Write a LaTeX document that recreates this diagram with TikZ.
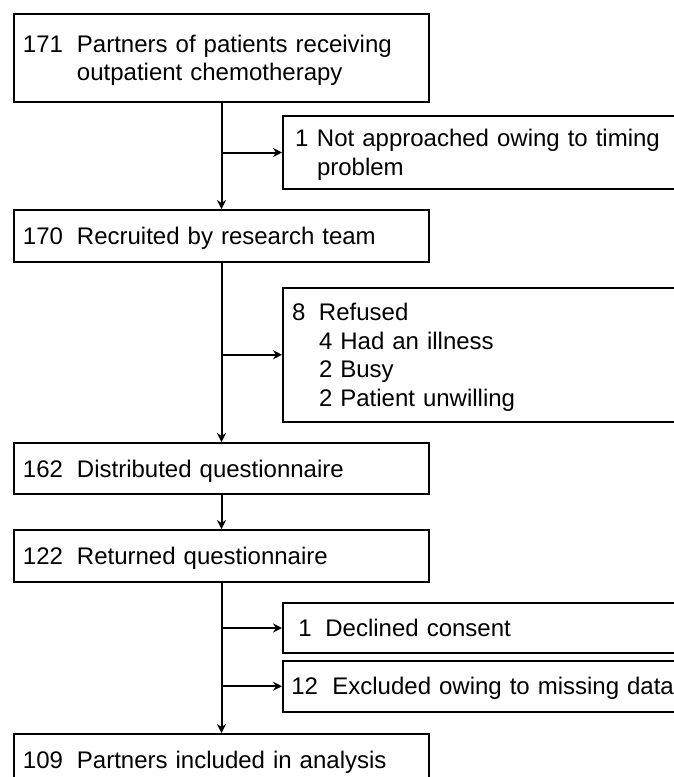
\documentclass[tikz,border=0pt]{standalone}
\usepackage{fontspec}
\setmainfont{Liberation Sans}
\usetikzlibrary{arrows.meta}

\tikzset{
  mainbox/.style={minimum width=415pt,inner xsep=#1,text width=415pt-2*#1},
  sidebox/.style={minimum width=440pt,inner xsep=#1,text width=440pt-2*#1}
}

\begin{document}
\begin{tikzpicture}[x=1pt,y=-1pt]
        \useasboundingbox (0,0) rectangle (674,777);
        \clip (0,0) rectangle (674,777);
        \begin{scope}[every node/.style={draw,line width=2pt,anchor=north west,align=left,
            font=\fontsize{24pt}{28.5pt}\selectfont,inner ysep=0pt,text height=17.2pt,text depth=0pt}]
          \node[mainbox=9pt,minimum height=88pt,text depth=28.5pt] (n171) at (13,13)
            {\makebox[54pt][l]{171}Partners of patients receiving\\\hspace*{54pt}outpatient chemotherapy};
          \node[sidebox=12pt,minimum height=73pt,text depth=28.5pt] (nskip) at (282,115)
            {\makebox[22pt][l]{1}Not approached owing to timing\\\hspace*{22pt}problem};
          \node[mainbox=9pt,minimum height=52pt] (n170) at (13,209)
            {\makebox[54pt][l]{170}Recruited by research team};
          \node[sidebox=9pt,minimum height=133.5pt,text depth=85.5pt] (nref) at (282,287)
            {\makebox[27pt][l]{8}Refused\\\hspace*{27pt}4 Had an illness\\\hspace*{27pt}2 Busy\\\hspace*{27pt}2 Patient unwilling};
          \node[mainbox=9pt,minimum height=51pt] (n162) at (13,442)
            {\makebox[54pt][l]{162}Distributed questionnaire};
          \node[mainbox=9pt,minimum height=52pt] (n122) at (13,529)
            {\makebox[54pt][l]{122}Returned questionnaire};
          \node[sidebox=15.4pt,minimum height=50pt] (ndecl) at (282,602)
            {\makebox[27pt][l]{1}Declined consent};
          \node[sidebox=8.4pt,minimum height=50.5pt] (nexcl) at (282,660)
            {\makebox[41pt][l]{12}Excluded owing to missing data};
          \node[mainbox=9pt,minimum height=52pt] (n109) at (13,733)
            {\makebox[54pt][l]{109}Partners included in analysis};
        \end{scope}
        \begin{scope}[every edge/.style={draw=black,line width=2pt,-{Stealth[length=9pt,width=9pt,inset=3pt]}}]
          \path (n171) edge (n170);
          \path (n171.south |- nskip.west) edge (nskip.west);
          \path (n170) edge (n162);
          \path (n170.south |- nref.west) edge (nref.west);
          \path (n162) edge (n122);
          \path (n122) edge (n109);
          \path (n122.south |- ndecl.west) edge (ndecl.west);
          \path (n122.south |- nexcl.west) edge (nexcl.west);
        \end{scope}
      \end{tikzpicture}
\end{document}
